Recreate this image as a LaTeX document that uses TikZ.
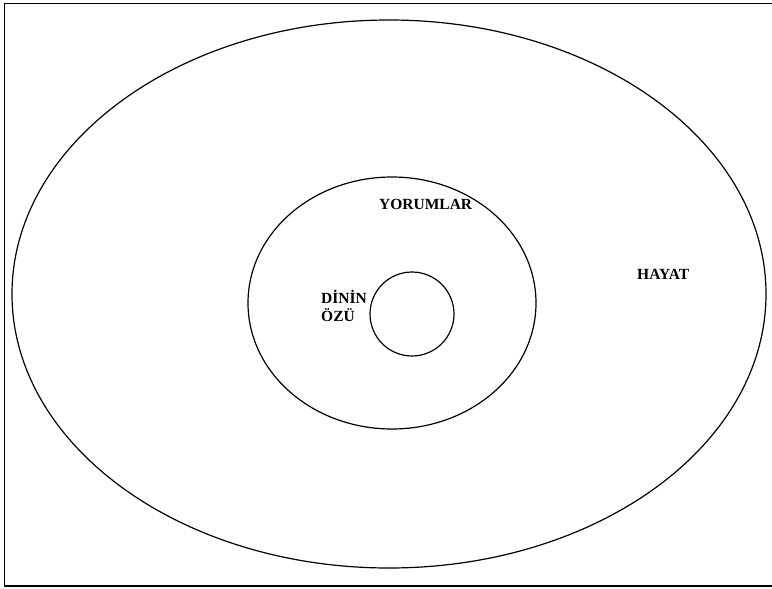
\documentclass[tikz,border=0pt]{standalone}
\usepackage{fontspec}
\setmainfont{Liberation Serif}
\begin{document}
\begin{tikzpicture}[x=1pt, y=-1pt]
			\useasboundingbox (0,0) rectangle (772,589);
			\draw[line width=1.4pt] (772,3.5) -- (4.5,3.5) -- (4.5,586) -- (772,586);
			\draw[line width=1.2pt] (389,294) ellipse [x radius=377, y radius=274];
			\draw[line width=1.2pt] (392,303) ellipse [x radius=144, y radius=126];
			\draw[line width=1.2pt] (412,314) circle [radius=42];
			\node[anchor=base west, inner sep=0pt, font=\fontsize{15.5}{18}\selectfont\bfseries](yorumlar) at (379,209){YORUMLAR};
			\node[anchor=base west, inner sep=0pt, font=\fontsize{15.5}{18}\selectfont\bfseries](dinin) at (321,303){DİNİN};
			\node[anchor=base west, inner sep=0pt, font=\fontsize{15.5}{18}\selectfont\bfseries](ozu) at (321,321){ÖZÜ};
			\node[anchor=base west, inner sep=0pt, font=\fontsize{15.5}{18}\selectfont\bfseries](hayat) at (637,279){HAYAT};
			\end{tikzpicture}
\end{document}
